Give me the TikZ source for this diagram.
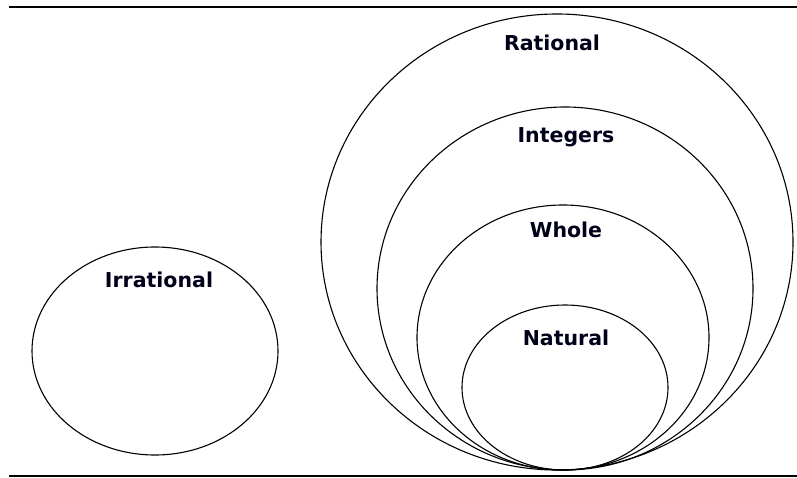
\documentclass[tikz,border=0pt]{standalone}
\usepackage{fontspec}
\setmainfont{DejaVu Sans}
\usetikzlibrary{shapes.geometric}
\begin{document}
\begin{tikzpicture}[x=1pt,y=-1pt,
  setshape/.style={ellipse, draw=black, line width=1.1pt, inner sep=0pt},
  setlabel/.style={font=\bfseries\fontsize{20.5}{20.5}\selectfont, text=black!90!blue, inner sep=0pt},
  rule/.style={line width=2.2pt, black}]
\useasboundingbox (0,0) rectangle (797,478);
\coordinate (tl) at (9,7);
\coordinate (tr) at (797,7);
\coordinate (bl) at (9,476);
\coordinate (br) at (797,476);
\draw[rule] (tl) -- (tr);
\draw[rule] (bl) -- (br);
\node[setshape, minimum width=246pt, minimum height=208pt] (irr) at (155,351) {};
\node[setshape, minimum width=472pt, minimum height=456pt] (rat) at (557,242) {};
\node[setshape, minimum width=376pt, minimum height=363pt] (int) at (565,288.5) {};
\node[setshape, minimum width=292pt, minimum height=265pt] (who) at (563,337.5) {};
\node[setshape, minimum width=206pt, minimum height=165pt] (nat) at (565,387.5) {};
\node[setlabel] (lirr) at (159,280) {Irrational};
\node[setlabel] (lrat) at (552,43) {Rational};
\node[setlabel] (lint) at (566,137) {Integers};
\node[setlabel] (lwho) at (566,230) {Whole};
\node[setlabel] (lnat) at (566,338) {Natural};
\end{tikzpicture}
\end{document}
